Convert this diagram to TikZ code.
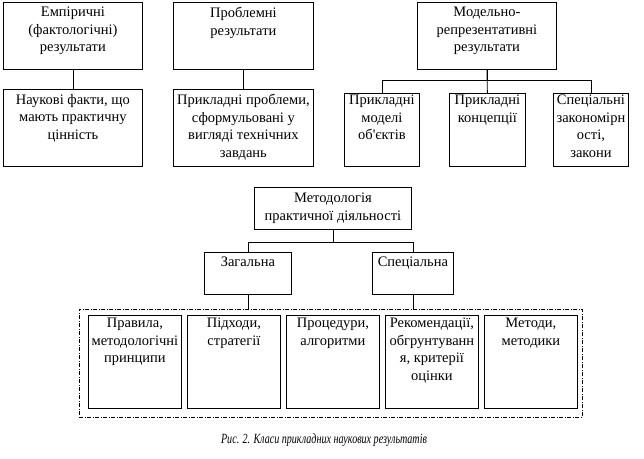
\documentclass[tikz,border=0pt]{standalone}
\usepackage{fontspec}
\setmainfont{Liberation Serif}
\newfontfamily\plainserif{Liberation Serif}
\begin{document}
\begin{tikzpicture}[x=1pt,y=-1pt,
  box/.style={draw,line width=0.8pt,inner sep=0pt,anchor=north west},
  txt/.style={anchor=north,inner sep=0pt,align=center,
    font=\fontsize{14.5}{17.5}\selectfont,
    execute at begin node={\rule{0pt}{11pt}}},
  conn/.style={line width=0.8pt},
  captxt/.style={font=\fontsize{14}{16}\selectfont\itshape\addfontfeature{FakeStretch=0.72},inner sep=0pt}]
\useasboundingbox[fill=white] (0,0) rectangle (644,458);
% top row
\node[box,minimum width=139pt,minimum height=67pt] (b1) at (3,2) {};
\node[txt] (b1t) at ([yshift=-5pt]b1.north) {Емпіричні\\(фактологічні)\\результати};
\node[box,minimum width=140pt,minimum height=67pt] (b2) at (173,2) {};
\node[txt] (b2t) at ([yshift=-5pt]b2.north) {Проблемні\\результати};
\node[box,minimum width=139pt,minimum height=67pt] (b3) at (417,2) {};
\node[txt] (b3t) at ([yshift=-5pt]b3.north) {Модельно-\\репрезентативні\\результати};
\node[box,minimum width=139pt,minimum height=77pt] (c1) at (3,89) {};
\node[txt] (c1t) at ([yshift=-5pt]c1.north) {Наукові факти, що\\мають практичну\\цінність};
\node[box,minimum width=140pt,minimum height=77pt] (c2) at (173,89) {};
\node[txt] (c2t) at ([yshift=-5pt]c2.north) {Прикладні проблеми,\\сформульовані у\\вигляді технічних\\завдань};
\node[box,minimum width=75pt,minimum height=73pt] (d1) at (344,93) {};
\node[txt] (d1t) at ([yshift=-2pt]d1.north) {Прикладні\\моделі\\об{\plainserif '}єктів};
\node[box,minimum width=76pt,minimum height=73pt] (d2) at (449,93) {};
\node[txt] (d2t) at ([yshift=-2pt]d2.north) {Прикладні\\концепції};
\node[box,minimum width=75pt,minimum height=73pt] (d3) at (553,93) {};
\node[txt] (d3t) at ([yshift=-2pt]d3.north) {Спеціальні\\закономірн\\ості,\\закони};
\draw[conn] (b1.south) -- (c1.north);
\draw[conn] (b2.south) -- (b2.south |- c2.north);
\draw[conn] (b3.south) -- (d2.north);
\draw[conn] (b3.south) -- ++(0,11) -| (d1.north);
\draw[conn] (b3.south) -- ++(0,11) -| (d3.north);
% methodology
\node[box,minimum width=157pt,minimum height=42pt] (m) at (254,187) {};
\node[txt] (mt) at ([yshift=-6pt]m.north) {Методологія\\практичної діяльності};
\node[box,minimum width=87pt,minimum height=42pt] (z) at (204,252) {};
\node[txt] (zt) at ([yshift=-3pt]z.north) {Загальна};
\node[box,minimum width=81pt,minimum height=42pt] (s) at (372,252) {};
\node[txt] (st) at ([yshift=-3pt]s.north) {Спеціальна};
\draw[conn] (m.south) -- ++(0,13) -| (z.north);
\draw[conn] (m.south) -- ++(0,13) -| (s.north);
\node[box,dash pattern=on 4pt off 1.5pt on 1pt off 1.5pt,line width=0.8pt,
  minimum width=503pt,minimum height=108pt] (db) at (79,309) {};
\draw[conn] (z.south) -- (z.south |- db.north);
\draw[conn] (s.south) -- (s.south |- db.north);
\node[box,minimum width=93pt,minimum height=93pt] (e1) at (88,315) {};
\node[txt] (e1t) at ([yshift=-3pt]e1.north) {Правила,\\методологічні\\принципи};
\node[box,minimum width=93pt,minimum height=93pt] (e2) at (187,315) {};
\node[txt] (e2t) at ([yshift=-3pt]e2.north) {Підходи,\\стратегії};
\node[box,minimum width=93pt,minimum height=93pt] (e3) at (286,315) {};
\node[txt] (e3t) at ([yshift=-3pt]e3.north) {Процедури,\\алгоритми};
\node[box,minimum width=93pt,minimum height=93pt] (e4) at (385,315) {};
\node[txt] (e4t) at ([yshift=-3pt]e4.north) {Рекомендації,\\обгрунтуванн\\я, критерії\\оцінки};
\node[box,minimum width=93pt,minimum height=93pt] (e5) at (484,315) {};
\node[txt] (e5t) at ([yshift=-3pt]e5.north) {Методи,\\методики};
\node[captxt] (capt) at (324,440) {Рис. 2. Класи прикладних наукових результатів};
\end{tikzpicture}
\end{document}
